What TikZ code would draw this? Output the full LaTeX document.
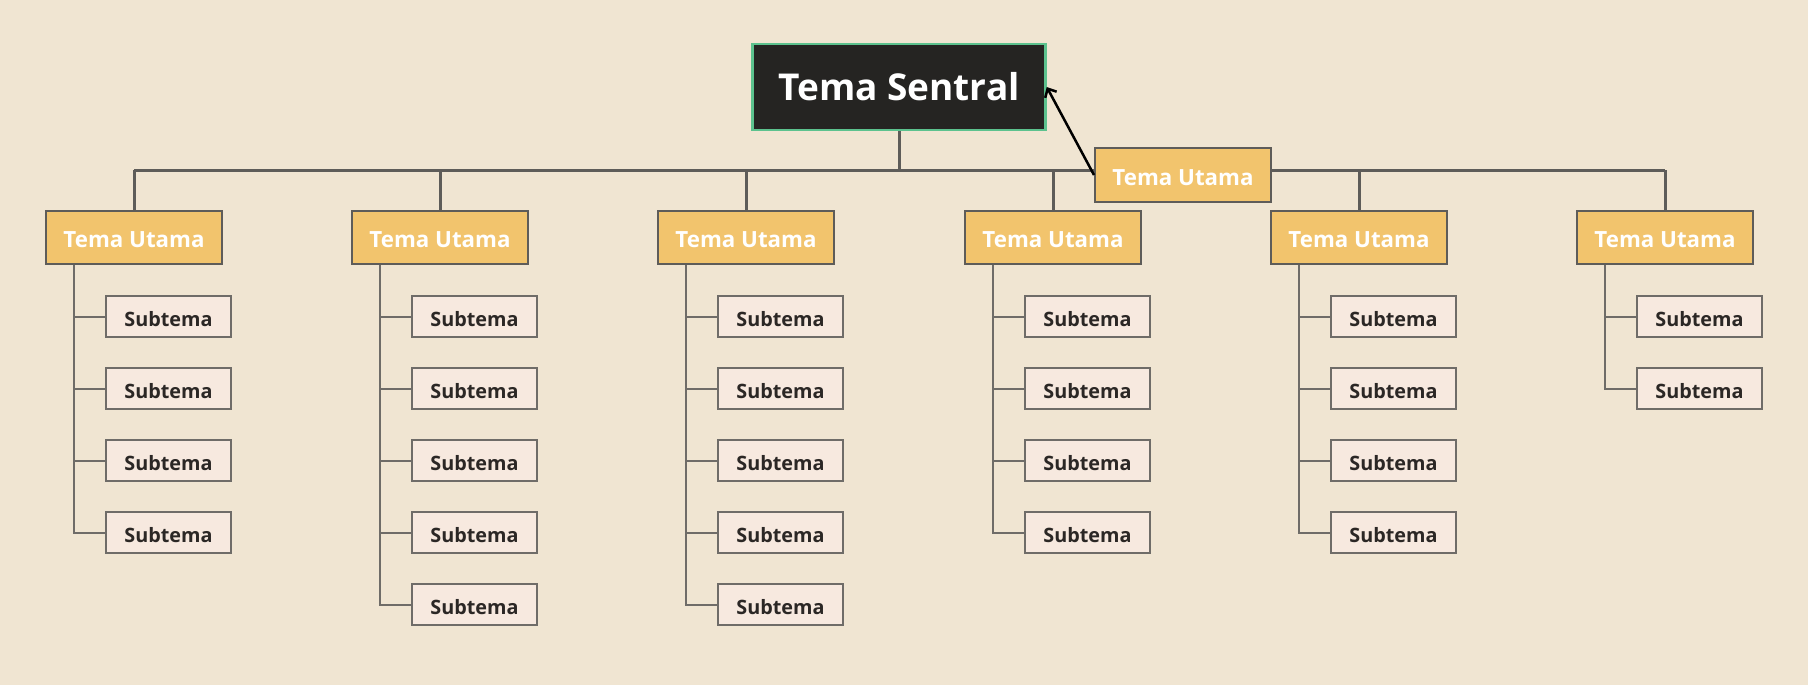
\documentclass[tikz,border=0pt]{standalone}
\usepackage{fontspec}
\setmainfont{Open Sans}
\usetikzlibrary{arrows.meta,calc}
\definecolor{bg}{HTML}{F0E5D2}
\definecolor{cdark}{HTML}{252422}
\definecolor{cgreen}{HTML}{5CC28E}
\definecolor{topicfill}{HTML}{F2C46D}
\definecolor{subfill}{HTML}{F7E9DF}
\definecolor{linegray}{HTML}{5E5C59}
\definecolor{sublinegray}{HTML}{6F6C68}
\definecolor{subtext}{HTML}{2B2725}
\tikzset{
  central/.style={draw=cgreen, line width=2.5pt, fill=cdark, text=white,
    font=\bfseries\fontsize{37}{37}\selectfont, minimum width=293pt, minimum height=86pt, inner sep=0pt},
  topic/.style={draw=linegray, line width=2pt, fill=topicfill, text=white,
    font=\bfseries\fontsize{22.3}{22.3}\selectfont, minimum width=176pt, minimum height=53pt, inner sep=0pt,
    text height=20.5pt, text depth=0pt},
  subbox/.style={draw=sublinegray, line width=1.5pt, fill=subfill, text=subtext,
    font=\bfseries\fontsize{19.8}{19.8}\selectfont, minimum width=125pt, minimum height=41pt, inner sep=0pt,
    text height=19.5pt, text depth=0pt},
  bus/.style={draw=linegray, line width=3pt},
  subline/.style={draw=sublinegray, line width=2pt},
  arr/.style={draw=black, line width=2.5pt, -{Straight Barb[length=7pt,width=13pt]}}
}
\begin{document}
\begin{tikzpicture}[x=1pt,y=-1pt]
\fill[bg] (0,0) rectangle (1808,685);
\useasboundingbox (0,0) rectangle (1808,685);

\node[central] (c) at (899,87) {Tema Sentral};
\coordinate (bl) at (134,170);
\coordinate (br) at (1665,170);
\coordinate (bc) at (899,170);
\draw[bus] (c.south) -- (bc);
\draw[bus] (bl) -- (br);

\foreach \i/\x/\n in {1/134/4,2/440/5,3/746/5,4/1053/4,5/1359/4,6/1665/2} {
  \node[topic] (m\i) at (\x,237.5) {Tema Utama};
  \coordinate (t\i) at (\x,170);
  \draw[bus] (m\i.north) -- (t\i);
  \foreach \j in {1,...,\n} {
    \node[subbox] (s\i-\j) at ({\x+34.5},{316.5+72*(\j-1)}) {Subtema};
    \draw[subline] ($(m\i.south west)+(29,0)$) |- (s\i-\j.west);
  }
}

\node[topic, minimum height=54pt] (f) at (1183,175) {Tema Utama};
\draw[arr] (f.west) -- (c.east);
\end{tikzpicture}
\end{document}
